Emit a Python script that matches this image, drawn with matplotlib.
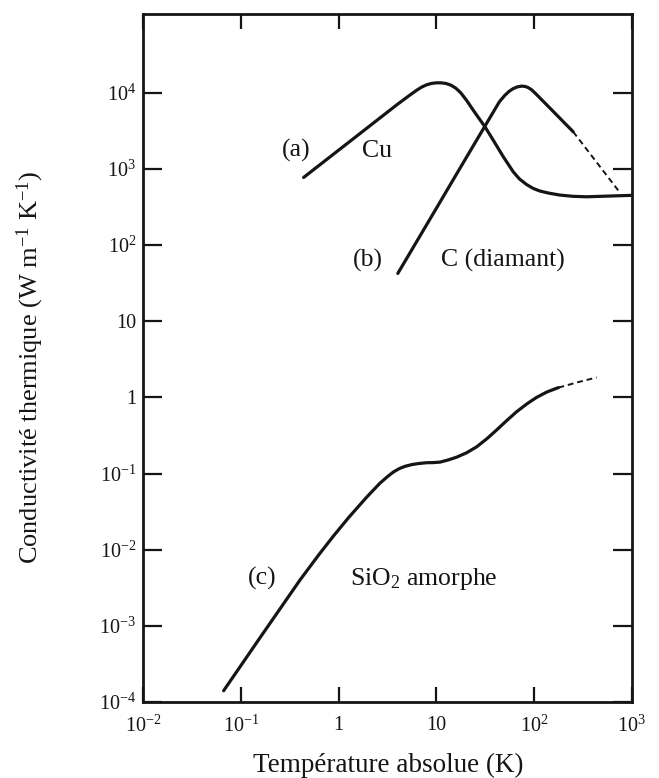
import matplotlib
matplotlib.use('Agg')
import matplotlib.pyplot as plt
from matplotlib.ticker import FixedLocator, FixedFormatter, NullLocator

plt.rcParams['font.family'] = ['Liberation Serif', 'DejaVu Serif']
plt.rcParams['mathtext.fontset'] = 'custom'
plt.rcParams['mathtext.rm'] = 'Liberation Serif'
plt.rcParams['mathtext.it'] = 'Liberation Serif:italic'
plt.rcParams['mathtext.bf'] = 'Liberation Serif:bold'

# ---------------- data ----------------
# (a) Cu
cu_T = [0.4375, 1, 2, 4, 5.36, 6.31, 7.08, 7.94, 8.91, 10, 11.22, 12.59, 14.13, 15.85, 17.78,
        20.42, 25.12, 31.48, 38.19, 48.42, 61.24, 70.79, 83.95, 97.72, 114.8, 141.3, 184.1,
        251.2, 345.1, 597, 1000]
cu_K = [773, 1766, 3532, 7063, 9333, 10840, 11885, 12735, 13275, 13520, 13520, 13240, 12590,
        11480, 10000, 7943, 5370, 3581, 2393, 1449, 918, 741, 624, 556, 513, 482, 454,
        437, 431, 441, 450]

# (b) C (diamant) - solid part
c_T = [4.03, 10, 17.2, 30.9, 44.1, 50.1, 55.7, 61.2, 67.6, 74.6, 81.3, 87.3, 94.4, 104.7, 158.5, 251.8]
c_K = [42.4, 304, 989, 3516, 7586, 9226, 10470, 11350, 11970, 12240, 12110, 11700, 10960, 9660,
       5636, 3076]
# (b) C (diamant) - dashed extrapolation
c_T_dash = [251.8, 770]
c_K_dash = [3076, 476]

# (c) SiO2 amorphe - solid part
si_T = [0.0664, 0.158, 0.402, 0.631, 0.881, 1.259, 1.936, 2.63, 3.162, 3.631, 4.169, 4.786,
        5.623, 6.607, 7.943, 9.333, 10.89, 13.18, 16.14, 20.42, 25.82, 33.11, 41.4, 52.48,
        66.37, 85.11, 106.2, 134.9, 170.2, 177.8]
si_K = [1.406e-4, 7.10e-4, 4.0e-3, 8.69e-3, 0.01503, 0.02624, 0.0490, 0.0741, 0.0912, 0.1047,
        0.1161, 0.1245, 0.1312, 0.1355, 0.1387, 0.1393, 0.1413, 0.1507, 0.1641, 0.1875,
        0.2239, 0.2884, 0.3733, 0.4955, 0.6486, 0.8279, 1.0, 1.175, 1.318, 1.343]
# (c) SiO2 amorphe - dashed extrapolation
si_T_dash = [177.8, 281.8, 437.5]
si_K_dash = [1.343, 1.585, 1.828]

x_ticks = [1e-2, 1e-1, 1, 10, 1e2, 1e3]
x_tick_labels = [r'$10^{-2}$', r'$10^{-1}$', '1', '10', r'$10^{2}$', r'$10^{3}$']
y_ticks = [1e-4, 1e-3, 1e-2, 1e-1, 1, 10, 1e2, 1e3, 1e4]
y_tick_labels = [r'$10^{-4}$', r'$10^{-3}$', r'$10^{-2}$', r'$10^{-1}$', '1', '10',
                 r'$10^{2}$', r'$10^{3}$', r'$10^{4}$']

x_label = 'Température absolue (K)'
y_label = r'Conductivité thermique (W m$^{-1}$ K$^{-1}$)'
curve_labels = ['(a)', 'Cu', '(b)', 'C (diamant)', '(c)', r'SiO$_2$ amorphe']

# ---------------- figure ----------------
ink = '#151515'
W, H = 659, 778
fig = plt.figure(figsize=(W / 100, H / 100), dpi=100)
L, R, T, B = 143.3, 631.7, 13.5, 702.0
ax = fig.add_axes([L / W, (H - B) / H, (R - L) / W, (B - T) / H])

ax.set_xscale('log')
ax.set_yscale('log')
ax.set_xlim(1e-2, 1e3)
ax.set_ylim(1e-4, 1.1e5)

lw = 2.3
kw = dict(color=ink, lw=lw, solid_capstyle='round', solid_joinstyle='round')
ax.plot(cu_T, cu_K, **kw)
ax.plot(c_T, c_K, **kw)
ax.plot(c_T_dash, c_K_dash, color=ink, lw=1.4, linestyle=(0, (3, 2)))
ax.plot(si_T, si_K, **kw)
ax.plot(si_T_dash, si_K_dash, color=ink, lw=1.4, linestyle=(0, (3, 2)))

ax.xaxis.set_major_locator(FixedLocator(x_ticks))
ax.xaxis.set_major_formatter(FixedFormatter(x_tick_labels))
ax.yaxis.set_major_locator(FixedLocator(y_ticks))
ax.yaxis.set_major_formatter(FixedFormatter(y_tick_labels))
ax.xaxis.set_minor_locator(NullLocator())
ax.yaxis.set_minor_locator(NullLocator())

ax.tick_params(axis='x', which='major', direction='in', length=11, width=1.6,
               top=True, bottom=True, labelsize=14.5, pad=10, colors=ink)
ax.tick_params(axis='y', which='major', direction='in', length=14, width=1.6,
               left=True, right=True, labelsize=14.5, pad=5, colors=ink)
for s in ax.spines.values():
    s.set_linewidth(2.0)
    s.set_color(ink)

def fx(px):
    return (px - L) / (R - L)

def fy(py):
    return (B - py) / (B - T)

fs = 18.5
pos = [(295.8, 156.7), (376.7, 156.7),
       (368.3, 267.0), (502.5, 267.0),
       (262.5, 585.0), (423.8, 585.0)]
for (px, py), txt in zip(pos, curve_labels):
    ax.text(fx(px), fy(py), txt, transform=ax.transAxes, ha='center', va='baseline',
            fontsize=fs, color=ink)

fig.text(388 / W, 1 - 765 / H, x_label, ha='center', va='center', fontsize=19.5, color=ink)
fig.text(30 / W, 1 - 367 / H, y_label, ha='center', va='center', rotation=90,
         fontsize=19, color=ink)

fig.savefig('out.png', dpi=100, facecolor='white')
